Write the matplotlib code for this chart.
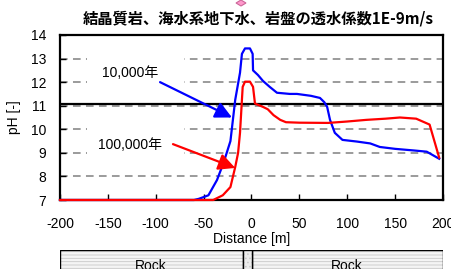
import matplotlib
matplotlib.use("Agg")
import matplotlib.pyplot as plt
from matplotlib.patches import Rectangle, Polygon

plt.rcParams["font.family"] = ["Liberation Sans", "Noto Sans CJK JP", "DejaVu Sans"]
plt.rcParams["hatch.linewidth"] = 0.6

# 10,000年 (青)
dist_10k = [-200, -60, -55, -45, -36, -29, -22, -17, -12, -10, -6.8, -1.6, 1.2,
            1.6, 6.8, 12, 19, 26.6, 40, 47.5, 62, 71.5, 76, 79, 82, 87, 95,
            110, 124, 134, 150, 170, 183, 196]
ph_10k = [7.0, 7.0, 7.05, 7.2, 7.85, 8.6, 9.5, 11.25, 12.4, 13.2, 13.43, 13.43, 13.2,
          12.5, 12.3, 12.05, 11.8, 11.55, 11.5, 11.5, 11.42, 11.33, 11.15, 10.95, 10.4, 9.85, 9.55,
          9.48, 9.4, 9.25, 9.17, 9.1, 9.05, 8.75]

# 100,000年 (赤)
dist_100k = [-200, -40, -30, -22, -17, -14, -12, -10, -9.2, -6.8, -1.6, 1.6, 3.6,
             6, 12, 17, 23, 30, 36, 50, 80, 100, 120, 140, 155, 172, 186, 196]
ph_100k = [7.0, 7.0, 7.2, 7.55, 8.4, 9.0, 9.85, 11.25, 11.8, 12.02, 12.02, 11.8, 11.1,
           11.05, 10.95, 10.85, 10.6, 10.4, 10.3, 10.28, 10.27, 10.33, 10.4, 10.45, 10.5, 10.45, 10.2, 8.8]

xticks = [-200, -150, -100, -50, 0, 50, 100, 150, 200]
yticks = [7, 8, 9, 10, 11, 12, 13, 14]

fig = plt.figure(figsize=(4.52, 2.69), dpi=100)
ax = fig.add_axes([60 / 452, 1 - 200 / 269, 383 / 452, 165 / 269])

ax.set_xlim(-200, 200)
ax.set_ylim(7, 14)
ax.set_axisbelow(True)
ax.yaxis.grid(True, color="#808080", linestyle=(0, (5, 3.5)), linewidth=1.1)

# テキストの背景（グリッドを隠す）
ax.add_patch(Rectangle((-172, 11.5), 101, 2.1, facecolor="white", edgecolor="none", zorder=1))
ax.add_patch(Rectangle((-172, 8.5), 101, 2.1, facecolor="white", edgecolor="none", zorder=1))

ax.axhline(11.07, color="black", linewidth=1.6, zorder=2)

ax.plot(dist_10k, ph_10k, color="#0000ff", linewidth=1.6, zorder=3, clip_on=False)
ax.plot(dist_100k, ph_100k, color="#ff0000", linewidth=1.6, zorder=3, clip_on=False)

ax.text(-127, 12.4, "10,000年", fontsize=10, ha="center", va="center", zorder=4)
ax.text(-127, 9.33, "100,000年", fontsize=10, ha="center", va="center", zorder=4)
ax.annotate("", xy=(-20.4, 10.5), xytext=(-95.5, 12.0),
            arrowprops=dict(arrowstyle="-|>,head_length=1.0,head_width=0.5",
                            color="#0000ff", lw=1.6, shrinkA=0, shrinkB=0), zorder=4)
ax.annotate("", xy=(-17, 8.36), xytext=(-82, 9.37),
            arrowprops=dict(arrowstyle="-|>,head_length=1.0,head_width=0.5",
                            color="#ff0000", lw=1.6, shrinkA=0, shrinkB=0), zorder=4)

ax.set_xticks(xticks)
ax.set_xticklabels([str(v) for v in xticks])
ax.set_yticks(yticks)
ax.tick_params(direction="in", length=4, width=1, labelsize=10, pad=10, colors="black")
ax.tick_params(axis="x", pad=12)
for s in ax.spines.values():
    s.set_linewidth(1.6)
ax.set_xlabel("Distance [m]", fontsize=10, labelpad=1)
ax.set_ylabel("pH [-]", fontsize=10, labelpad=7)

fig.text(258 / 452, 1 - 18 / 269, "結晶質岩、海水系地下水、岩盤の透水係数1E-9m/s",
         fontsize=11, fontweight="bold", ha="center", va="center",
         family=["Noto Sans CJK JP", "DejaVu Sans"])

# 上部の小さなマーカー
fig.patches.append(Polygon([(241 / 452, 1.0), (246 / 452, 1 - 3 / 269), (241 / 452, 1 - 6 / 269),
                            (236 / 452, 1 - 3 / 269)], closed=True, transform=fig.transFigure,
                           facecolor="#ff99cc", edgecolor="#cc6699", linewidth=0.8))

# 下部の岩盤パネル
bx = fig.add_axes([60 / 452, -0.08, 383 / 452, (269 - 250) / 269 + 0.08])
bx.set_xlim(-200, 200)
bx.set_ylim(0, 1)
bx.axis("off")
cells = [(-200, 191, "-----", "#f4f4f4"), (1, 199, "-----", "#f4f4f4"), (-9, 10, "....", "#ececec")]
for x0, w, h, fc in cells:
    bx.add_patch(Rectangle((x0, 0), w, 1, facecolor=fc, edgecolor="#c8c8c8",
                           linewidth=0, hatch=h))
    bx.add_patch(Rectangle((x0, 0), w, 1, facecolor="none", edgecolor="black", linewidth=1))
bx.text(-105, 0.6, "Rock", fontsize=10, ha="center", va="center")
bx.text(100, 0.6, "Rock", fontsize=10, ha="center", va="center")

fig.savefig("out.png", dpi=100)
